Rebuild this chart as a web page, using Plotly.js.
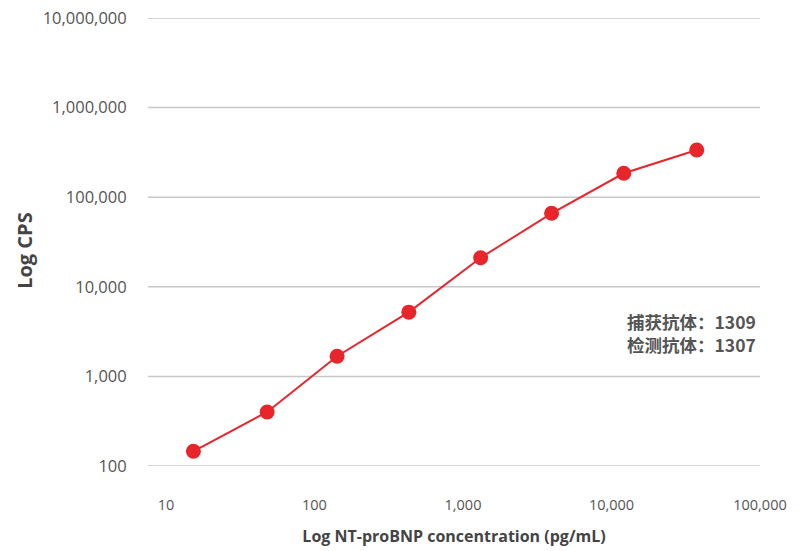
<!DOCTYPE html>
<html>
<head>
<meta charset="utf-8">
<script src="https://cdn.plot.ly/plotly-3.0.1.min.js"></script>
<style>html,body{margin:0;padding:0;background:#fff;}#chart{width:804px;height:551px;}</style>
</head>
<body>
<div id="chart"></div>
<script>
const concentration = [15.3, 48, 142, 432, 1315, 3950, 12100, 37500];
const cps = [146, 401, 1680, 5210, 21100, 66100, 185000, 336000];
const xTickVals = [10, 100, 1000, 10000, 100000];
const xTickText = ["10", "100", "1,000", "10,000", "100,000"];
const yTickVals = [100, 1000, 10000, 100000, 1000000, 10000000];
const yTickText = ["100", "1,000", "10,000", "100,000", "1,000,000", "10,000,000"];
const noteLines = ["捕获抗体：1309", "检测抗体：1307"];
const yTitle = 'Log CPS';
const xTitle = 'Log NT-proBNP concentration (pg/mL)';

const trace = {
  x: concentration, y: cps, type: 'scatter', mode: 'lines+markers',
  line: {color: '#e8252b', width: 2},
  marker: {color: '#e8252b', size: 15},
  cliponaxis: false, hoverinfo: 'none'
};
const noteY = [0.322, 0.271];
const gridShapes = yTickVals.map(v => ({
  type: 'line', xref: 'paper', yref: 'y', x0: 0, x1: 1, y0: v, y1: v,
  line: {color: '#c8c8c8', width: 1.5}, layer: 'below'
}));
const annotations = noteLines.map((s, i) => ({
  xref: 'paper', yref: 'paper', x: 0.996, y: noteY[i],
  xanchor: 'right', yanchor: 'middle', align: 'right', showarrow: false,
  text: '<b>' + s + '</b>',
  font: {family: '"Noto Sans CJK SC", sans-serif', size: 17.5, color: '#555'}
}));
annotations.push({
  xref: 'paper', yref: 'paper', x: -0.203, y: 0.482,
  xanchor: 'center', yanchor: 'middle', textangle: -90, showarrow: false,
  text: '<b>' + yTitle + '</b>',
  font: {family: '"Open Sans", sans-serif', size: 20, color: '#444'}
});
const layout = {
  width: 804, height: 551,
  margin: {l: 148, r: 44, t: 18.3, b: 85.3},
  paper_bgcolor: '#fff', plot_bgcolor: '#fff',
  showlegend: false,
  font: {family: '"Open Sans", sans-serif', color: '#555'},
  xaxis: {
    type: 'log', range: [0.879, 5],
    tickvals: xTickVals, ticktext: xTickText,
    showgrid: false, zeroline: false, showline: false,
    ticks: 'outside', ticklen: 26, tickcolor: 'rgba(0,0,0,0)',
    tickfont: {size: 14.5, color: '#555'},
    title: {text: xTitle, standoff: 17,
      font: {size: 16, color: '#444', family: '"Open Sans", sans-serif', weight: 'bold'}}
  },
  yaxis: {
    type: 'log', range: [2, 7],
    tickvals: yTickVals, ticktext: yTickText,
    showgrid: false, zeroline: false, showline: false,
    ticks: 'outside', ticklen: 17, tickcolor: 'rgba(0,0,0,0)',
    tickfont: {size: 16.5, color: '#555'}
  },
  shapes: gridShapes,
  annotations: annotations
};
Plotly.newPlot('chart', [trace], layout, {staticPlot: true});
</script>
</body>
</html>
